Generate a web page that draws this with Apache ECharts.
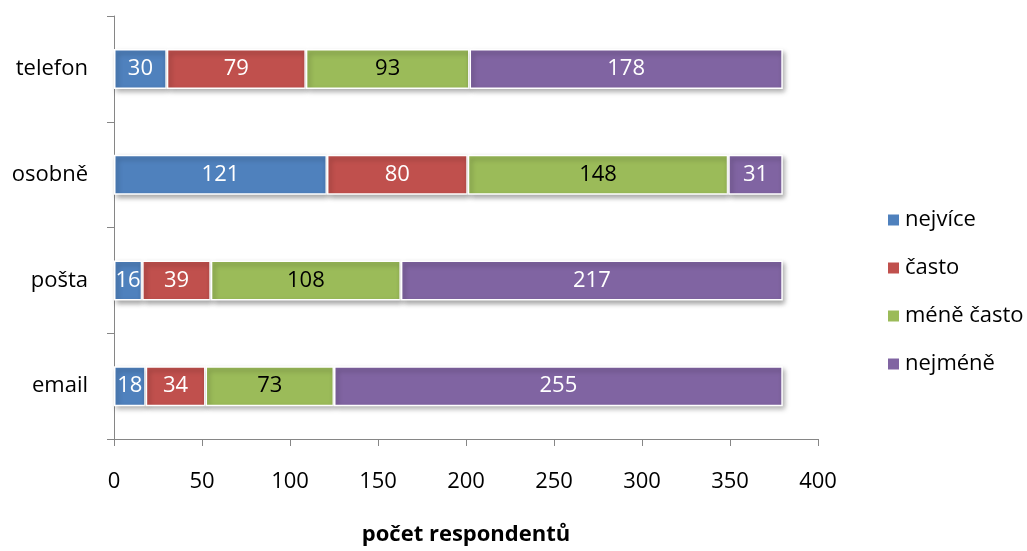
<!DOCTYPE html>
<html><head><meta charset="utf-8">
<script src="https://cdn.jsdelivr.net/npm/echarts@6/dist/echarts.min.js"></script>
<style>html,body{margin:0;padding:0;background:#fff}#c{width:1027px;height:551px}</style>
</head><body><div id="c"></div>
<script>
const categories = ['email', 'pošta', 'osobně', 'telefon'];
const seriesNames = ['nejvíce', 'často', 'méně často', 'nejméně'];
const nejvice = [18, 16, 121, 30];
const casto = [34, 39, 80, 79];
const meneCasto = [73, 108, 148, 93];
const nejmene = [255, 217, 31, 178];
const xTicks = [0, 50, 100, 150, 200, 250, 300, 350, 400];
const axisTitle = 'počet respondentů';

const colors = ['#4F81BD', '#C0504D', '#9BBB59', '#8064A2'];
const labelColors = ['#fff', '#fff', '#000', '#fff'];
const values = [nejvice, casto, meneCasto, nejmene];
const FONT = 'Open Sans';

const chart = echarts.init(document.getElementById('c'), null, {renderer: 'canvas'});
chart.setOption({
  animation: false,
  textStyle: {fontFamily: FONT},
  grid: {left: 114, right: 209, top: 16, bottom: 107, containLabel: false},
  legend: {
    orient: 'vertical', left: 881, top: 204,
    itemWidth: 13, itemHeight: 13, itemGap: 26,
    icon: 'rect',
    textStyle: {fontSize: 22, lineHeight: 22, color: '#000', fontFamily: FONT, padding: [0, 0, 0, 0]},
    data: seriesNames
  },
  xAxis: {
    type: 'value', min: xTicks[0], max: xTicks[xTicks.length - 1], interval: 50,
    axisLine: {show: true, lineStyle: {color: '#868686', width: 1}},
    axisTick: {show: true, length: 7, lineStyle: {color: '#868686'}},
    splitLine: {show: false},
    axisLabel: {fontSize: 22, color: '#000', margin: 32, fontFamily: FONT},
    name: axisTitle, nameLocation: 'middle', nameGap: 85,
    nameTextStyle: {fontSize: 22, fontWeight: 'bold', color: '#000', fontFamily: FONT}
  },
  yAxis: {
    type: 'category', data: categories,
    axisLine: {show: true, lineStyle: {color: '#868686', width: 1}},
    axisTick: {show: true, length: 7, lineStyle: {color: '#868686'}},
    axisLabel: {fontSize: 22, color: '#000', margin: 26, fontFamily: FONT}
  },
  series: seriesNames.map((n, i) => ({
    name: n, type: 'bar', stack: 'total', barWidth: 40,
    data: values[i],
    itemStyle: {
      color: colors[i], borderColor: '#fff', borderWidth: 1.5,
      shadowColor: 'rgba(0,0,0,0.35)', shadowBlur: 5, shadowOffsetX: 2, shadowOffsetY: 3
    },
    label: {show: true, position: 'inside', fontSize: 22, color: labelColors[i], fontFamily: FONT}
  }))
});
</script></body></html>
